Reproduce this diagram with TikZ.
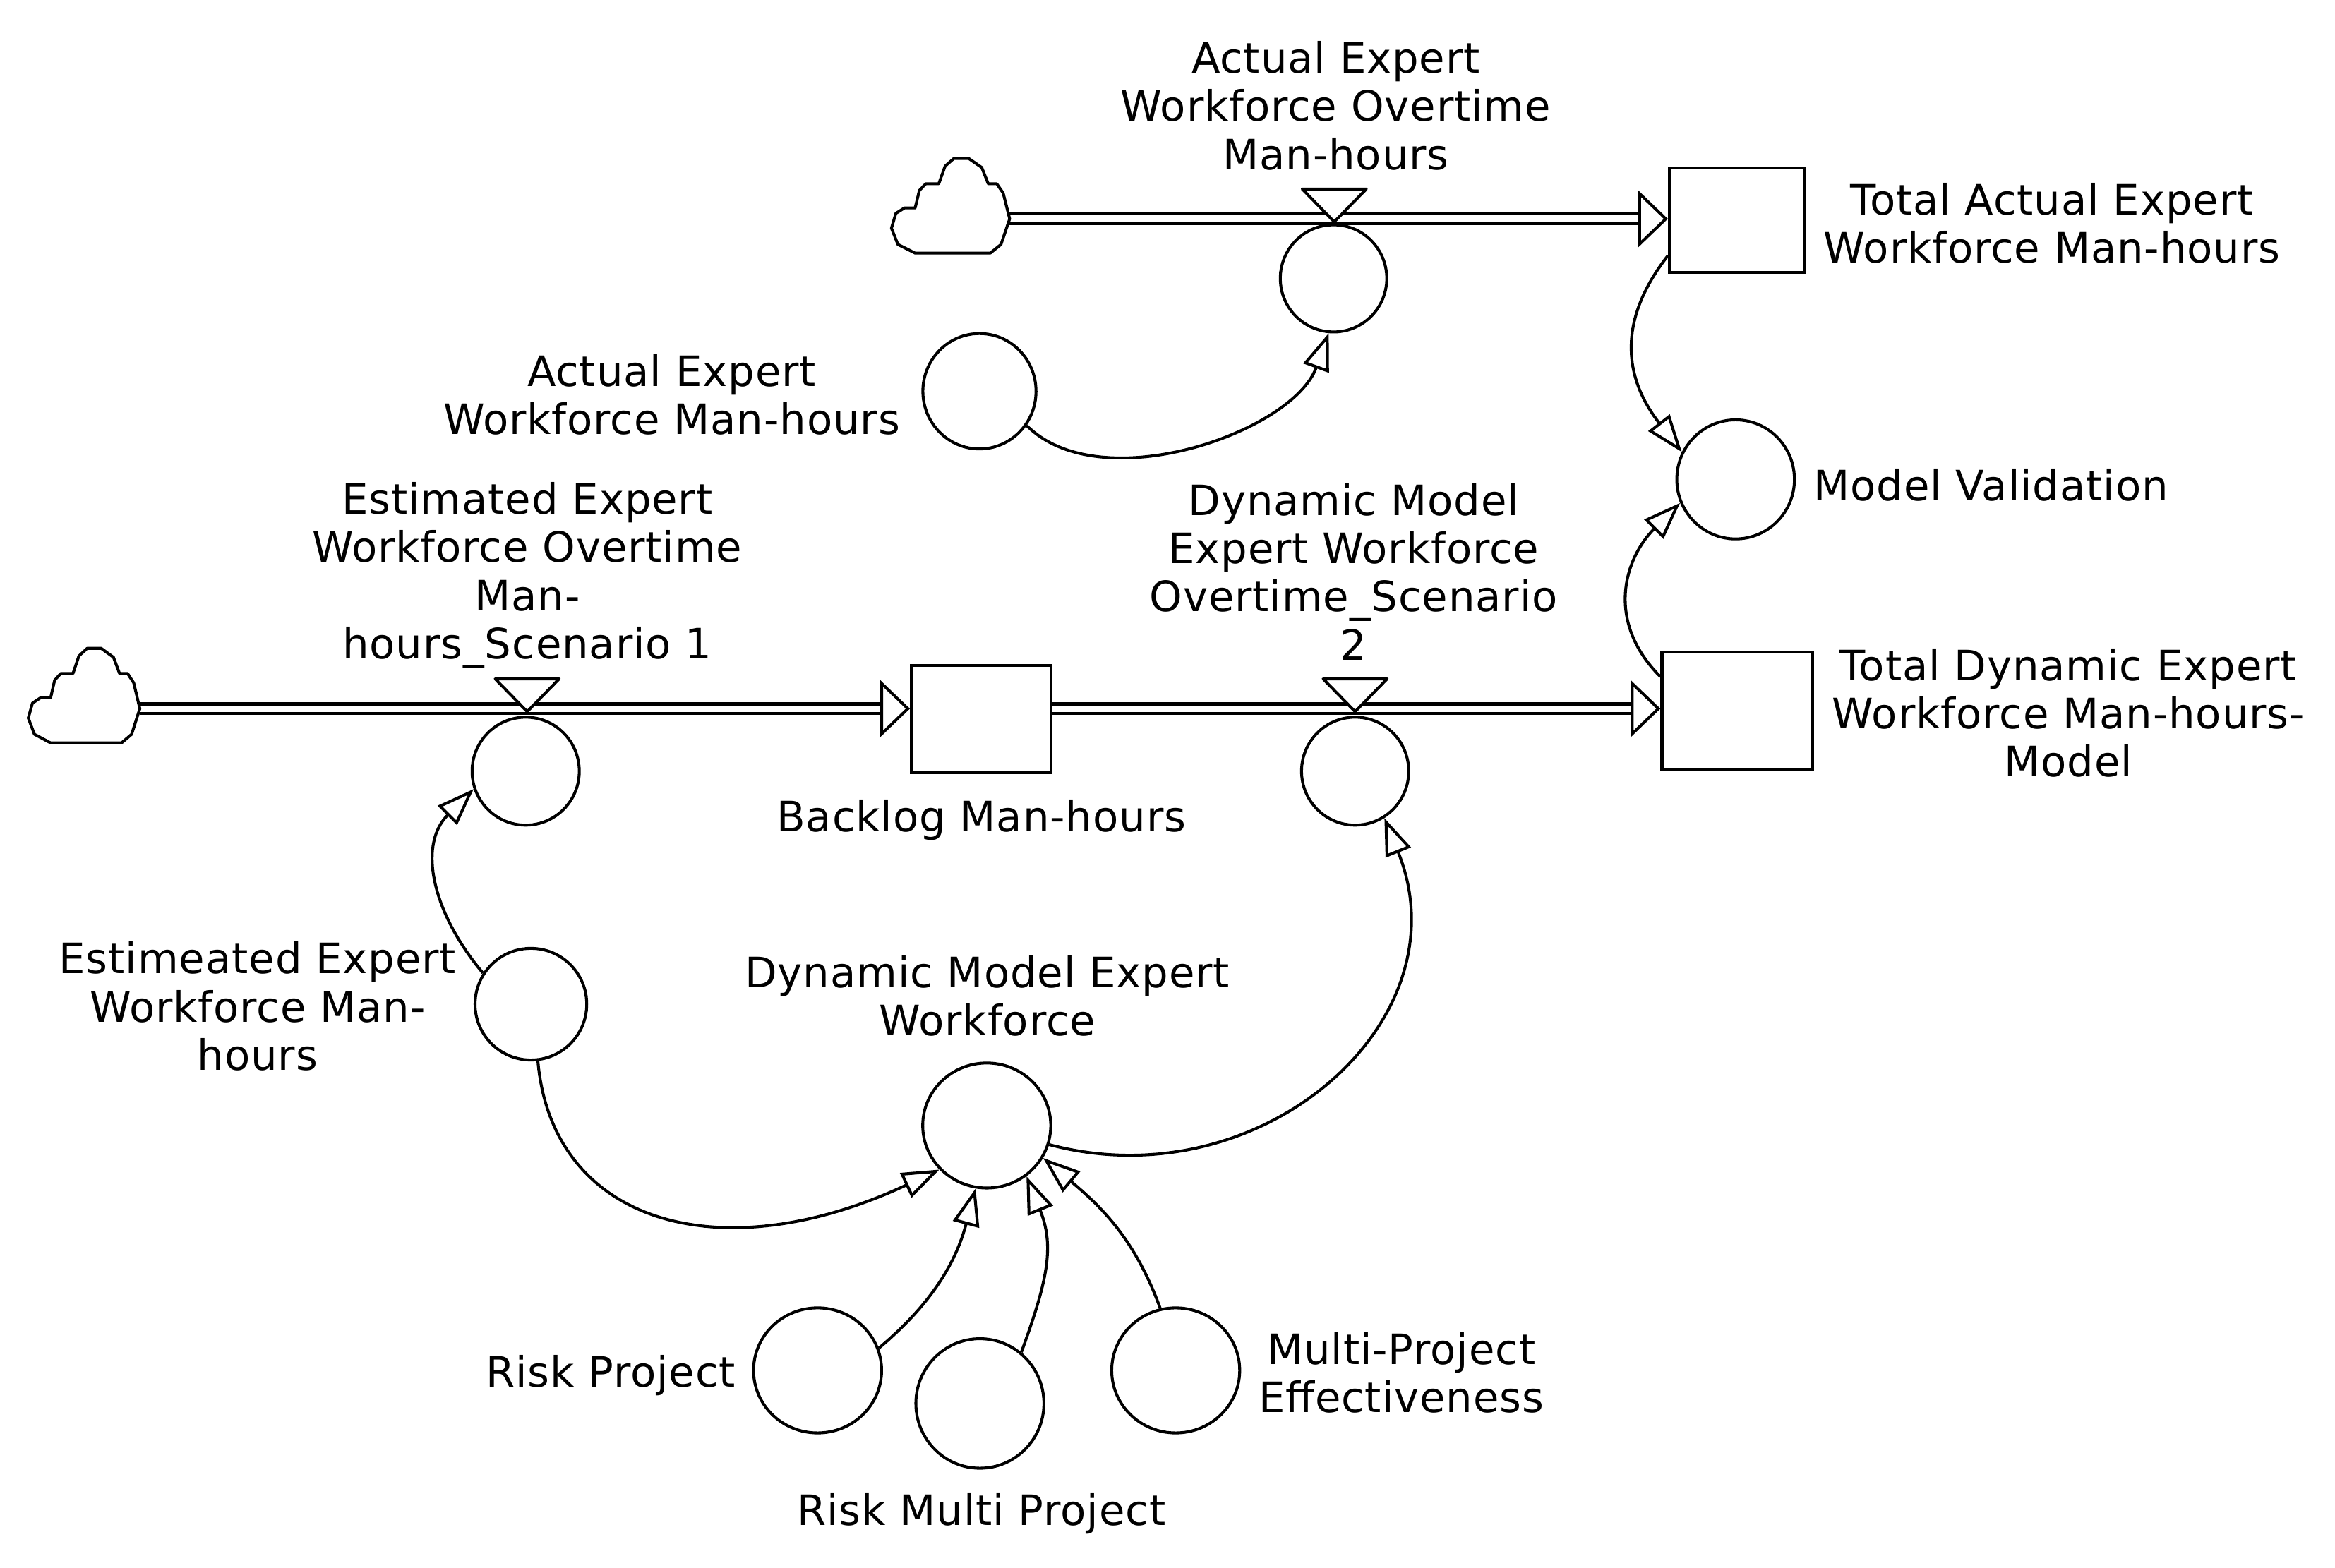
\documentclass[tikz,border=0pt]{standalone}
\usepackage{fontspec}
\setmainfont[LetterSpace=1.5]{DejaVu Sans}
\usetikzlibrary{arrows.meta,shapes.geometric}

\tikzset{
    aux/.style={draw,ellipse,inner sep=0pt},
    stock/.style={draw,rectangle,inner sep=0pt},
    lbl/.style={align=center,inner sep=0pt,font=\fontsize{16}{18.43}\selectfont},
    link/.style={-{Triangle[fill=white,length=0.5cm,width=0.36cm,line width=1.1pt]}},
    flow/.style={line width=1.2pt,double,double distance=0.088cm,-{Triangle[fill=white,length=0.4cm,width=0.76cm,line width=1.1pt]}},
    pics/cloudsrc/.style={code={
        \draw[fill=white,line join=round] (0,0) -- (-4.1,17.3) -- (-8.2,23.6) -- (-13.6,23.6) -- (-17.7,34.5) -- (-25.9,40.5)
            -- (-35.4,40.5) -- (-40.9,35.4) -- (-44.9,23.6) -- (-53.1,23.6) -- (-57.2,19.1) -- (-59.9,7.3) -- (-66.7,7.3)
            -- (-72.1,3.7) -- (-74.9,-6.3) -- (-70.8,-17.2) -- (-59.9,-23) -- (-12.3,-23) -- (-5.5,-17.2) -- cycle;
    }},
    pics/valve/.style={code={
        \draw[fill=white,line join=round] (-21.5,22) -- (21.5,22) -- (0,0) -- cycle;
    }}
}

\begin{document}
\begin{tikzpicture}[x=0.02cm,y=0.02cm,line width=1.1pt]
    \useasboundingbox (0,0) rectangle (1568,-1053);

    % Stocks
    \node[stock,minimum width=1.82cm,minimum height=1.4cm] (totActual) at (1166.5,-148) {};
    \node[stock,minimum width=2.02cm,minimum height=1.58cm] (totDynamic) at (1166.5,-477.5) {};
    \node[stock,minimum width=1.88cm,minimum height=1.44cm] (backlog) at (659,-483) {};

    % Auxiliaries
    \node[aux,minimum width=1.43cm,minimum height=1.44cm] (actualOver) at (895.5,-187) {};
    \node[aux,minimum width=1.52cm,minimum height=1.55cm] (actualWork) at (657.7,-262.8) {};
    \node[aux,minimum width=1.58cm,minimum height=1.6cm] (validation) at (1165.5,-322) {};
    \node[aux,minimum width=1.44cm,minimum height=1.45cm] (estOver) at (353,-518) {};
    \node[aux,minimum width=1.44cm,minimum height=1.45cm] (dynOver) at (910,-518) {};
    \node[aux,minimum width=1.5cm,minimum height=1.5cm] (estWork) at (356.5,-674.5) {};
    \node[aux,minimum width=1.72cm,minimum height=1.68cm] (dynWork) at (662.6,-756) {};
    \node[aux,minimum width=1.72cm,minimum height=1.68cm] (riskProj) at (549,-920.5) {};
    \node[aux,minimum width=1.72cm,minimum height=1.74cm] (riskMulti) at (658,-942.7) {};
    \node[aux,minimum width=1.72cm,minimum height=1.68cm] (multiEff) at (789.5,-920.5) {};

    % Flows
    \coordinate (srcTop) at (678,-147);
    \coordinate (srcLow) at (93.9,-476);
    \draw[flow] (srcTop) -- (srcTop -| totActual.west);
    \draw[flow] (srcLow) -- (srcLow -| backlog.west);
    \draw[flow] (srcLow -| backlog.east) -- (srcLow -| totDynamic.west);

    % Clouds
    \pic[xscale=1.06] at (srcTop) {cloudsrc};
    \pic at (srcLow) {cloudsrc};

    % Valves
    \pic at (896,-149) {valve};
    \pic at (354,-478) {valve};
    \pic at (910,-478) {valve};

    % Links
    \draw[link] (actualWork.-36) to[out=-45,in=-110,looseness=0.85] (actualOver.-95);
    \draw[link] (totActual.207) to[out=232,in=128,looseness=1.15] (validation.153);
    \draw[link] (totDynamic.156) to[out=135,in=225,looseness=1.15] (validation.203);
    \draw[link] (estWork.147) to[out=130,in=225,looseness=1.1] (estOver.199);
    \draw[link] (estWork.-83) to[out=-85,in=205,out looseness=1,in looseness=1.5] (dynWork.223);
    \draw[link] (dynWork.-17) to[out=-15,in=-68,looseness=1.2] (dynOver.-58);
    \draw[link] (riskProj.20) to[out=40,in=-105] (dynWork.260);
    \draw[link] (riskMulti.51) to[out=70,in=-68,looseness=1.1] (dynWork.-52);
    \draw[link] (multiEff.104) to[out=110,in=-40] (dynWork.-30);

    % Labels
    \node[lbl] (lblActualOver) at (897,-71) {Actual Expert\\Workforce Overtime\\Man-hours};
    \node[lbl] (lblTotActual) at (1378,-150) {Total Actual Expert\\Workforce Man-hours};
    \node[lbl] (lblActualWork) at (451,-265) {Actual Expert\\Workforce Man-hours};
    \node[lbl] (lblValidation) at (1337,-326) {Model Validation};
    \node[lbl] (lblEstOver) at (354,-386.5) {Estimated Expert\\Workforce Overtime\\Man-\\hours\_Scenario 1};
    \node[lbl] (lblDynOver) at (909,-384) {Dynamic Model\\Expert Workforce\\Overtime\_Scenario\\2};
    \node[lbl] (lblTotDynamic) at (1389,-479) {Total Dynamic Expert\\Workforce Man-hours-\\Model};
    \node[lbl] (lblBacklog) at (659,-551) {Backlog Man-hours};
    \node[lbl] (lblEstWork) at (173,-676) {Estimeated Expert\\Workforce Man-\\hours};
    \node[lbl] (lblDynWork) at (663,-669) {Dynamic Model Expert\\Workforce};
    \node[lbl] (lblRiskProj) at (410,-924) {Risk Project};
    \node[lbl] (lblMultiEff) at (941,-922) {Multi-Project\\Effectiveness};
    \node[lbl] (lblRiskMulti) at (659,-1017) {Risk Multi Project};
\end{tikzpicture}
\end{document}
